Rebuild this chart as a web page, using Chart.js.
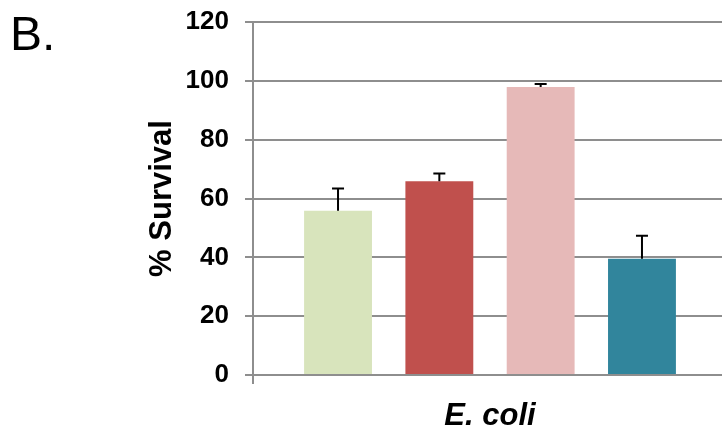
<!DOCTYPE html>
<html>
<head>
<meta charset="utf-8">
<script src="https://cdn.jsdelivr.net/npm/chart.js"></script>
<style>
  body { margin: 0; overflow: hidden; background: #fff; }
  #wrap { position: relative; width: 732px; height: 429px; }
  #panel { position: absolute; left: 10px; top: 6px; font: 48px 'Liberation Sans', Arial, sans-serif; color: #000; }
</style>
</head>
<body>
<div id="wrap">
  <canvas id="chart"></canvas>
  <div id="panel">B.</div>
</div>
<script>
const categories = ['E. coli'];
const groups = ['Group 1', 'Group 2', 'Group 3', 'Group 4'];
const survival = [55.8, 65.9, 97.9, 39.5];
const errors = [7.6, 2.6, 1.0, 7.8];
const colors = ['#D8E4BC', '#C0504D', '#E6B9B8', '#31859C'];
const yTicks = { min: 0, max: 120, step: 20 };

const axisGray = '#8e8e8e';

// upper error bars, drawn from the bar tip using the y scale
const errorBars = {
  id: 'errorBars',
  afterDatasetsDraw(chart) {
    const ctx = chart.ctx;
    const y = chart.scales.y;
    ctx.save();
    ctx.strokeStyle = '#000';
    ctx.lineWidth = 2;
    chart.data.datasets.forEach((ds, i) => {
      const bar = chart.getDatasetMeta(i).data[0];
      const top = y.getPixelForValue(ds.data[0] + errors[i]);
      ctx.beginPath();
      ctx.moveTo(bar.x, bar.y);
      ctx.lineTo(bar.x, top);
      ctx.moveTo(bar.x - 6, top);
      ctx.lineTo(bar.x + 6, top);
      ctx.stroke();
    });
    ctx.restore();
  }
};

new Chart(document.getElementById('chart'), {
  type: 'bar',
  data: {
    labels: categories,
    datasets: groups.map((g, i) => ({
      label: g,
      data: [survival[i]],
      backgroundColor: colors[i],
      barPercentage: 0.67,
      categoryPercentage: 0.855
    }))
  },
  options: {
    responsive: true,
    maintainAspectRatio: false,
    animation: false,
    layout: { padding: { top: 22, right: 5, left: 0, bottom: 0 } },
    plugins: { legend: { display: false }, tooltip: { enabled: false } },
    scales: {
      x: {
        grid: { drawOnChartArea: false, color: axisGray, lineWidth: 2, tickLength: 9 },
        border: { color: axisGray, width: 2 },
        ticks: {
          color: '#000',
          padding: 14,
          font: { family: "'Liberation Sans', Arial", size: 31, weight: 'bold', style: 'italic' }
        },
        afterFit(scale) { scale.height = 54; }
      },
      y: {
        min: yTicks.min,
        max: yTicks.max,
        grid: { color: axisGray, lineWidth: 2, tickLength: 8 },
        border: { color: axisGray, width: 2 },
        ticks: {
          stepSize: yTicks.step,
          color: '#000',
          padding: 16,
          font: { family: "'Liberation Sans', Arial", size: 26, weight: 'bold' }
        },
        title: {
          display: true,
          text: '% Survival',
          color: '#000',
          padding: { top: 144 },
          font: { family: "'Liberation Sans', Arial", size: 31, weight: 'bold' }
        },
        afterFit(scale) {
          scale.width = 253;
          scale.paddingTop = 0;
          scale.paddingBottom = 0;
        }
      }
    }
  },
  plugins: [errorBars]
});
</script>
</body>
</html>
